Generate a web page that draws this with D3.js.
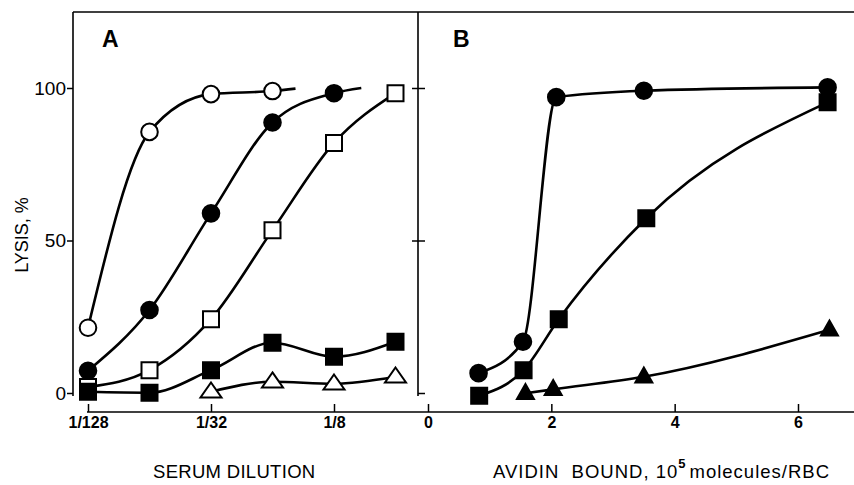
<!DOCTYPE html>
<html>
<head>
<meta charset="utf-8">
<script src="https://cdn.jsdelivr.net/npm/d3@7"></script>
<style>
  body { margin: 0; background: #fff; }
  #plot { display: block; font-family: "Liberation Sans", Arial, sans-serif; }
  .tick text { fill: #000; }
</style>
</head>
<body>
<svg id="plot" width="854" height="485"></svg>
<script>
'use strict';

// panel A: serum dilution (log2 axis)
const dilutions = [1 / 128, 1 / 64, 1 / 32, 1 / 16, 1 / 8, 1 / 4];
const dilutionTicks = [1 / 128, 1 / 32, 1 / 8];
const dilutionTickLabels = ['1/128', '1/32', '1/8'];

const openCircleA = [21.4, 85.6, 98, 99];            // 1/128 .. 1/16
const openCircleTail = [0.081, 99.8];               // curve goes on past last point
const filledCircleA = [7.3, 27.2, 58.9, 88.7, 98.3]; // 1/128 .. 1/8
const filledCircleTail = [0.17, 100];
const openSquareA = [2, 7.5, 24.2, 53.4, 82, 98.3];
const filledSquareA = [0.4, 0.1, 7.5, 16.5, 11.9, 16.8];
const openTriangleX = [1 / 32, 1 / 16, 1 / 8, 1 / 4];
const openTriangleA = [0.4, 3.7, 3, 5.3];

// panel B: avidin bound, 10^5 molecules/RBC
const avidinTicks = [0, 2, 4, 6];
const circleBx = [0.82, 1.54, 2.08, 3.5, 6.48];
const circleB = [6.5, 16.8, 97, 99.1, 100.2];
const squareBx = [0.83, 1.55, 2.12, 3.54, 6.48];
const squareB = [-0.9, 7.5, 24.2, 57.3, 95.3];
const triangleBx = [1.58, 2.03, 3.5, 6.51];
const triangleB = [-0.1, 1.2, 5.3, 20.7];

const lysisTicks = [0, 50, 100];

const frameLeft = 73;
const frameTop = 12;
const divider = 418;
const axisY = 412;
const frameBottom = 396;
const plotRight = 854;

const svg = d3.select('#plot');

const y = d3.scaleLinear().domain([0, 100]).range([393, 88]);
const xA = d3.scaleLog().base(2).domain([1 / 128, 1 / 8]).range([88, 334]);
const xB = d3.scaleLinear().domain([0, 6]).range([428, 798]);

function zip(xs, ys) {
    return ys.map((v, i) => [xs[i], v]);
}

function trianglePath(w, h) {
    return `M0,${-h * 0.62}L${w / 2},${h * 0.38}L${-w / 2},${h * 0.38}Z`;
}

function renderFrame() {
    const g = svg.append('g').attr('stroke', '#000').attr('stroke-width', 1.6);
    g.append('line').attr('x1', frameLeft).attr('x2', plotRight).attr('y1', frameTop).attr('y2', frameTop);
    g.append('line').attr('x1', frameLeft).attr('x2', frameLeft).attr('y1', frameTop).attr('y2', frameBottom);
    g.append('line').attr('x1', divider).attr('x2', divider).attr('y1', frameTop).attr('y2', frameBottom);
    g.append('line').attr('x1', 87).attr('x2', plotRight).attr('y1', axisY).attr('y2', axisY);
}

function styleAxis(g, size) {
    g.select('.domain').remove();
    g.selectAll('.tick line').attr('stroke', '#000').attr('stroke-width', 1.5);
    g.selectAll('.tick text').style('font-size', size);
}

function renderAxes() {
    svg.append('g')
        .attr('transform', `translate(${frameLeft},0)`)
        .call(d3.axisLeft(y).tickValues(lysisTicks).tickSize(6).tickPadding(1))
        .call(g => styleAxis(g, '19px'));

    svg.append('g')
        .attr('transform', `translate(${divider},0)`)
        .call(d3.axisLeft(y).tickValues([50, 100]).tickSize(6).tickFormat(''))
        .call(g => styleAxis(g, '0px'));

    svg.append('g')
        .attr('transform', `translate(${divider},0)`)
        .call(d3.axisRight(y).tickValues(lysisTicks).tickSize(7).tickFormat(''))
        .call(g => styleAxis(g, '0px'));

    svg.append('g')
        .attr('transform', `translate(0,${axisY})`)
        .call(d3.axisBottom(xA).tickValues(dilutionTicks).tickSize(-8).tickPadding(5)
            .tickFormat((d, i) => dilutionTickLabels[i]))
        .call(g => styleAxis(g, '16px'))
        .call(g => g.selectAll('.tick text').style('font-weight', 'bold'));

    svg.append('g')
        .attr('transform', `translate(0,${axisY})`)
        .call(d3.axisBottom(xB).tickValues(avidinTicks).tickSize(-8).tickPadding(5)
            .tickFormat(d3.format('d')))
        .call(g => styleAxis(g, '16px'))
        .call(g => g.selectAll('.tick text').style('font-weight', 'bold'));
}

function renderSeries(points, x, marker, filled, tail) {
    const line = d3.line()
        .x(d => x(d[0]))
        .y(d => y(d[1]))
        .curve(d3.curveMonotoneX);
    const linePoints = tail ? points.concat([tail]) : points;

    svg.append('path')
        .attr('d', line(linePoints))
        .attr('fill', 'none')
        .attr('stroke', '#000')
        .attr('stroke-width', 2.6);

    const g = svg.append('g')
        .attr('fill', filled ? '#000' : '#fff')
        .attr('stroke', '#000')
        .attr('stroke-width', 2);

    const marks = g.selectAll('path')
        .data(points)
        .enter()
        .append('path')
        .attr('transform', d => `translate(${x(d[0])},${y(d[1])})`);

    if (marker === 'circle') {
        marks.attr('d', d3.symbol(d3.symbolCircle, Math.PI * 8.3 * 8.3)());
    } else if (marker === 'square') {
        marks.attr('d', d3.symbol(d3.symbolSquare, 16 * 16)());
    } else {
        marks.attr('d', trianglePath(filled ? 17 : 21, 15));
    }
}

function renderLabels() {
    svg.append('text')
        .attr('x', 102).attr('y', 47)
        .style('font-size', '23px').style('font-weight', 'bold')
        .text('A');
    svg.append('text')
        .attr('x', 453).attr('y', 47)
        .style('font-size', '23px').style('font-weight', 'bold')
        .text('B');

    svg.append('text')
        .attr('transform', 'translate(28,235) rotate(-90)')
        .attr('text-anchor', 'middle')
        .style('font-size', '18px')
        .text('LYSIS, %');

    svg.append('text')
        .attr('x', 153).attr('y', 478)
        .style('font-size', '18.5px')
        .style('letter-spacing', '0.3px')
        .text('SERUM DILUTION');

    const avidin = svg.append('text')
        .attr('x', 493).attr('y', 478)
        .style('font-size', '18.5px')
        .style('letter-spacing', '1px')
        .style('white-space', 'pre');
    avidin.append('tspan').text('AVIDIN  BOUND, 10');
    avidin.append('tspan').attr('dy', -10).style('font-size', '13px').style('font-weight', 'bold').text('5');
    avidin.append('tspan').attr('dy', 10).attr('dx', 3).text('molecules/RBC');
}

renderFrame();
renderAxes();

renderSeries(zip(dilutions, openCircleA), xA, 'circle', false, openCircleTail);
renderSeries(zip(dilutions, filledCircleA), xA, 'circle', true, filledCircleTail);
renderSeries(zip(dilutions, openSquareA), xA, 'square', false);
renderSeries(zip(dilutions, filledSquareA), xA, 'square', true);
renderSeries(zip(openTriangleX, openTriangleA), xA, 'triangle', false);

renderSeries(zip(circleBx, circleB), xB, 'circle', true);
renderSeries(zip(squareBx, squareB), xB, 'square', true);
renderSeries(zip(triangleBx, triangleB), xB, 'triangle', true);

renderLabels();
</script>
</body>
</html>
